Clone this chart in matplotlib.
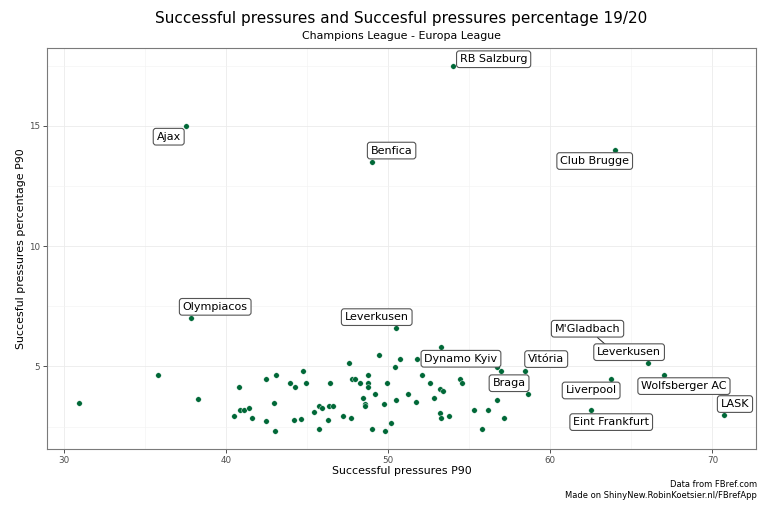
import matplotlib
matplotlib.use("Agg")
import matplotlib.pyplot as plt
from matplotlib.ticker import MultipleLocator

# ---------------- data ----------------
other_x = [30.93, 35.76, 38.27, 40.76, 40.45, 40.82, 41.09, 41.42, 41.62, 42.43,
           43.09, 42.92, 42.43, 43.00, 43.91, 44.26, 44.20, 44.60, 44.75, 44.92,
           45.43, 45.74, 45.70, 45.90, 46.32, 46.59, 46.26, 46.42, 47.18, 47.67,
           47.59, 47.74, 47.94, 48.25, 48.46, 48.58, 48.58, 48.75, 48.75, 48.75,
           48.99, 49.20, 49.40, 49.75, 49.79, 49.92, 50.17, 50.41, 50.45, 50.74,
           51.19, 51.77, 51.73, 52.08, 52.57, 52.82, 53.19, 53.40, 53.17, 53.25,
           53.73, 54.40, 54.57, 55.29, 55.80, 56.17, 56.71, 56.95, 58.60, 57.16]
other_y = [3.47, 4.64, 3.64, 4.14, 2.96, 3.21, 3.21, 3.29, 2.85, 4.46,
           4.64, 3.47, 2.74, 2.33, 4.30, 4.14, 2.76, 2.83, 4.80, 4.30,
           3.10, 2.39, 3.35, 3.29, 3.35, 3.35, 2.79, 4.30, 2.96, 2.86,
           5.14, 4.47, 4.47, 4.30, 3.71, 3.46, 3.35, 4.64, 4.30, 4.15,
           2.42, 3.85, 5.47, 3.46, 2.33, 4.30, 2.65, 4.97, 3.60, 5.30,
           3.85, 5.32, 3.53, 4.64, 4.30, 3.71, 4.08, 3.97, 3.07, 2.86,
           2.96, 4.47, 4.30, 3.19, 2.42, 3.21, 3.60, 4.83, 3.875, 2.86]

teams = ["RB Salzburg", "Ajax", "Benfica", "Club Brugge", "Olympiacos",
         "Leverkusen", "Dynamo Kyiv", "Vitória", "Braga", "M'Gladbach",
         "Leverkusen", "Wolfsberger AC", "Liverpool", "Eint Frankfurt", "LASK"]
team_x = [53.97, 37.50, 48.97, 63.97, 37.84, 50.49, 53.25, 58.46, 56.73, 63.96,
          66.00, 66.99, 63.75, 62.49, 70.70]
team_y = [17.47, 15.00, 13.51, 14.01, 7.00, 6.58, 5.82, 4.83, 4.97, 5.58,
          5.15, 4.65, 4.49, 3.18, 2.97]

x_ticks = [30, 40, 50, 60, 70]
y_ticks = [5, 10, 15]

title = "Successful pressures and Succesful pressures percentage 19/20"
subtitle = "Champions League - Europa League"
x_label = "Successful pressures P90"
y_label = "Succesful pressures percentage P90"
caption = "Data from FBref.com\nMade on ShinyNew.RobinKoetsier.nl/FBrefApp"

# label offsets (pixels) - layout only
label_offsets = [(41, 7), (-17, -11), (20, 11), (-20, -11.5), (24, 11.5),
                 (-19.5, 11.3), (20, -12), (20.8, 11.5), (11.7, -16), (-27, 23.8),
                 (-18.5, 10.7), (20.3, -11.2), (-20, -11.7), (20.5, -11.8), (11.2, 11.3)]
segment_for = {"M'Gladbach"}

# ---------------- figure ----------------
W, H = 770, 507
fig = plt.figure(figsize=(W / 100, H / 100), dpi=100)
fig.patch.set_facecolor("white")
L, R, T, B = 47, 756, 48, 449
ax = fig.add_axes([L / W, 1 - B / H, (R - L) / W, (B - T) / H])

point_color = "#006837"
ax.scatter(other_x + team_x, other_y + team_y, s=16, color=point_color,
           edgecolors="white", linewidths=0.3, zorder=3)

all_x = other_x + team_x
all_y = other_y + team_y
xr = max(all_x) - min(all_x)
yr = max(all_y) - min(all_y)
ax.set_xlim(min(all_x) - 0.05 * xr, max(all_x) + 0.05 * xr)
ax.set_ylim(min(all_y) - 0.05 * yr, max(all_y) + 0.05 * yr)

ax.set_xticks(x_ticks)
ax.set_yticks(y_ticks)
ax.xaxis.set_minor_locator(MultipleLocator(5))
ax.yaxis.set_minor_locator(MultipleLocator(2.5))
ax.grid(which="major", color="#ebebeb", lw=0.6, zorder=0)
ax.grid(which="minor", color="#f2f2f2", lw=0.4, zorder=0)
ax.set_axisbelow(True)
ax.tick_params(which="major", length=3, width=0.6, color="#333333",
               labelsize=6.3, labelcolor="#4d4d4d", pad=2)
ax.tick_params(which="minor", length=0)
for sp in ax.spines.values():
    sp.set_color("#7a7a7a")
    sp.set_linewidth(0.8)

for name, x, y, off in zip(teams, team_x, team_y, label_offsets):
    kw = {}
    if name in segment_for:
        kw["arrowprops"] = dict(arrowstyle="-", color="#222222", lw=0.7,
                                shrinkA=0, shrinkB=2)
    ax.annotate(name, (x, y), xytext=off, textcoords="offset pixels",
                ha="center", va="center", fontsize=8, color="black",
                bbox=dict(boxstyle="round,pad=0.3,rounding_size=0.25",
                          fc="white", ec="#555555", lw=0.8),
                zorder=5, **kw)

cx = (L + R) / 2 / W
fig.text(cx, 1 - 19 / H, title, ha="center", va="center", fontsize=11)
fig.text(cx, 1 - 36 / H, subtitle, ha="center", va="center", fontsize=7.9)
fig.text(cx, 1 - 471 / H, x_label, ha="center", va="center", fontsize=7.9)
fig.text(21 / W, 1 - (T + B) / 2 / H, y_label, ha="center", va="center",
         rotation=90, fontsize=7.9)
fig.text(757 / W, 1 - 490 / H, caption, ha="right", va="center",
         fontsize=6, linespacing=1.15)

fig.savefig("out.png", dpi=100, facecolor="white")
